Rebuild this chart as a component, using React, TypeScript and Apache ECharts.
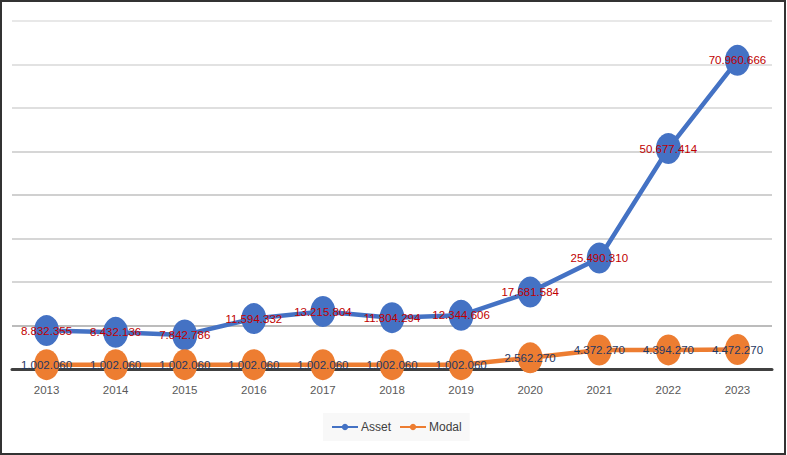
import React, { useEffect, useRef } from "react";
import * as echarts from "echarts";

const years = ["2013", "2014", "2015", "2016", "2017", "2018", "2019", "2020", "2021", "2022", "2023"];
const assetValues = [8832355, 8432136, 7842786, 11594332, 13215804, 11804294, 12344606, 17681584, 25490310, 50677414, 70960666];
const modalValues = [1002060, 1002060, 1002060, 1002060, 1002060, 1002060, 1002060, 2562270, 4372270, 4394270, 4472270];
const seriesNames = ["Asset", "Modal"];

const fmt = (v: number) => String(v).replace(/\B(?=(\d{3})+(?!\d))/g, ".");
const FONT = "'Liberation Sans', Arial, sans-serif";

export default function App() {
  const ref = useRef<HTMLDivElement>(null);
  useEffect(() => {
    document.body.style.margin = "0";
    const chart = echarts.init(ref.current!, undefined, { renderer: "svg" });
    chart.setOption({
      animation: false,
      backgroundColor: "#ffffff",
      grid: { left: 10, right: 12, top: 19, bottom: 84 },
      legend: {
        bottom: 12,
        left: 321,
        itemWidth: 26,
        itemHeight: 8,
        itemGap: 8,
        padding: [8, 8],
        backgroundColor: "#f8f8f8",
        textStyle: { color: "#404040", fontSize: 12, fontFamily: FONT, padding: [0, 0, 0, -2] },
        data: seriesNames,
      },
      xAxis: {
        type: "category",
        data: years,
        boundaryGap: true,
        axisLine: { lineStyle: { color: "#404040", width: 3 } },
        axisTick: { show: false },
        axisLabel: { color: "#595959", fontSize: 11.5, fontFamily: FONT, margin: 15 },
      },
      yAxis: {
        type: "value",
        min: 0,
        max: 80000000,
        interval: 10000000,
        axisLabel: { show: false },
        axisLine: { show: false },
        axisTick: { show: false },
        splitLine: {
          lineStyle: {
            width: 1.5,
            color: ["#404040", "#a6a6a6", "#c8c8c8", "#c8c8c8", "#c0c0c0", "#c8c8c8", "#d4d4d4", "#d9d9d9", "#e0e0e0"],
          },
        },
      },
      series: [
        {
          name: seriesNames[0],
          type: "line",
          data: assetValues,
          symbol: "circle",
          symbolSize: [25, 31],
          color: "#4472C4",
          lineStyle: { width: 4.5, color: "#4472C4" },
          itemStyle: { color: "#4472C4" },
          label: {
            show: true,
            position: "inside",
            color: "#C00000",
            fontSize: 11.5,
            fontFamily: FONT,
            formatter: (p: any) => fmt(p.value),
          },
          z: 3,
        },
        {
          name: seriesNames[1],
          type: "line",
          data: modalValues,
          symbol: "circle",
          symbolSize: [25, 31],
          color: "#ED7D31",
          lineStyle: { width: 4.5, color: "#ED7D31" },
          itemStyle: { color: "#ED7D31" },
          label: {
            show: true,
            position: "inside",
            color: "#1F3864",
            fontSize: 11.5,
            fontFamily: FONT,
            formatter: (p: any) => fmt(p.value),
          },
          z: 4,
        },
      ],
    });
    return () => chart.dispose();
  }, []);
  return (
    <div
      style={{
        position: "absolute",
        left: 0,
        top: 0,
        width: 786,
        height: 455,
        boxSizing: "border-box",
        border: "2px solid #333",
        background: "#fff",
      }}
    >
      <div ref={ref} style={{ width: 782, height: 451 }} />
    </div>
  );
}
